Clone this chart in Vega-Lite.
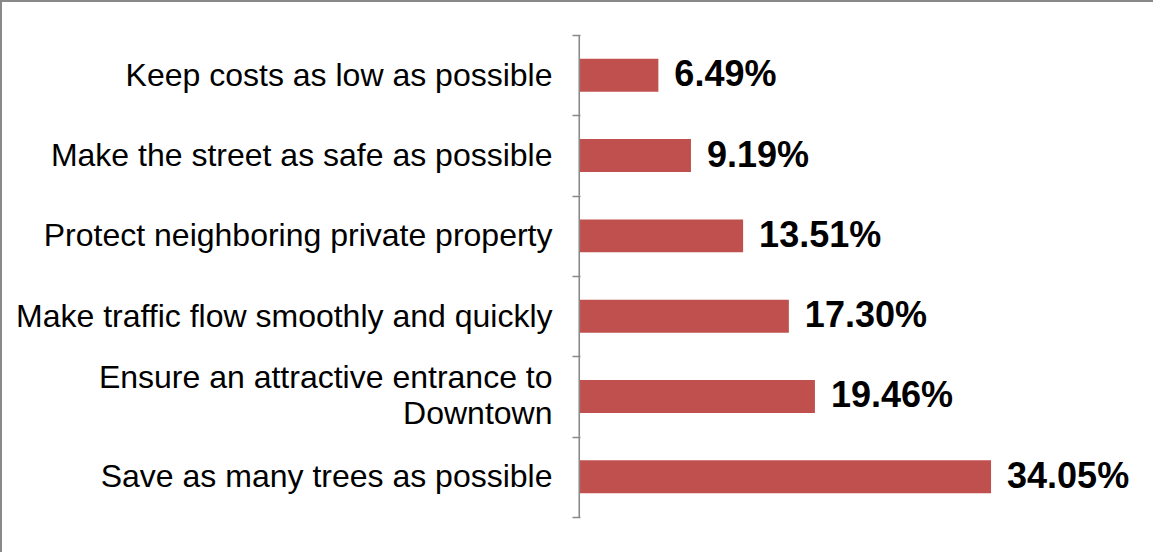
{
  "$schema": "https://vega.github.io/schema/vega-lite/v6.json",
  "width": 1160,
  "height": 560,
  "autosize": {"type": "none"},
  "padding": {"left": 1, "top": 1, "right": 0, "bottom": 0},
  "background": "white",
  "config": {
    "view": {"stroke": "#898989", "strokeWidth": 2},
    "font": "Liberation Sans"
  },
  "data": {
    "values": [
      {"priority": "Keep costs as low as possible", "share": 0.0649},
      {"priority": "Make the street as safe as possible", "share": 0.0919},
      {"priority": "Protect neighboring private property", "share": 0.1351},
      {"priority": "Make traffic flow smoothly and quickly", "share": 0.1730},
      {"priority": "Ensure an attractive entrance to Downtown", "share": 0.1946},
      {"priority": "Save as many trees as possible", "share": 0.3405}
    ]
  },
  "encoding": {
    "y": {
      "field": "priority",
      "type": "nominal",
      "sort": null,
      "scale": {"paddingInner": 0, "paddingOuter": 0.486, "align": 0.436},
      "axis": {
        "title": null,
        "orient": "left",
        "offset": -579,
        "domain": false,
        "tickBand": "extent",
        "tickSize": 8,
        "tickColor": "#898989",
        "tickWidth": 1.5,
        "labelFont": "Liberation Sans",
        "labelFontSize": 32,
        "labelColor": "black",
        "labelPadding": 20,
        "labelLimit": 700,
        "labelLineHeight": 36,
        "labelOffset": {
          "condition": {"test": "datum.value == 'Ensure an attractive entrance to Downtown'", "value": -19},
          "value": 0
        },
        "labelExpr": "datum.value == 'Ensure an attractive entrance to Downtown' ? ['Ensure an attractive entrance to', 'Downtown'] : datum.label"
      }
    }
  },
  "layer": [
    {
      "mark": {"type": "bar", "color": "#898989"},
      "encoding": {
        "x": {"datum": -0.0013, "type": "quantitative", "axis": null},
        "x2": {"datum": 0}
      }
    },
    {
      "mark": {"type": "bar", "color": "#C0504D", "height": {"band": 0.41}},
      "encoding": {
        "x": {
          "field": "share",
          "type": "quantitative",
          "scale": {"domain": [-0.4797, 0.4813], "nice": false},
          "axis": null
        }
      }
    },
    {
      "mark": {
        "type": "text",
        "align": "left",
        "baseline": "middle",
        "dx": 16,
        "fontSize": 36,
        "fontWeight": "bold",
        "color": "black",
        "font": "Liberation Sans"
      },
      "encoding": {
        "x": {"field": "share", "type": "quantitative"},
        "text": {"field": "share", "type": "quantitative", "format": ".2%"}
      }
    }
  ]
}
